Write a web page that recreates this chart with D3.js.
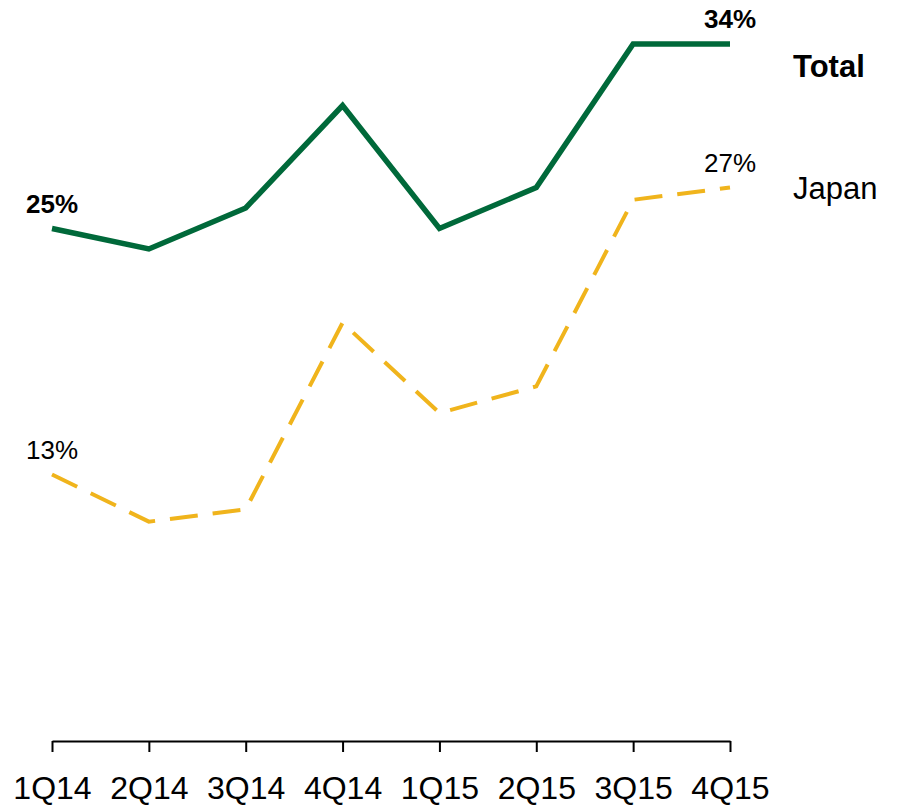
<!DOCTYPE html>
<html>
<head>
<meta charset="utf-8">
<script src="https://cdn.jsdelivr.net/npm/d3@7"></script>
<style>
  body { margin:0; padding:0; background:#fff; }
  svg { display:block; font-family:"Liberation Sans", Arial, sans-serif; }
  .axis path, .axis line { stroke:#000; stroke-width:2; }
  .axis text { font-size:32px; fill:#000; }
</style>
</head>
<body>
<div id="chart"></div>
<script>
// quarters on the x axis
var quarters = ["1Q14", "2Q14", "3Q14", "4Q14", "1Q15", "2Q15", "3Q15", "4Q15"];
// share, percent
var totalVals = [25, 24, 26, 31, 25, 27, 34, 34];
var japanVals = [13, 10.7, 11.3, 20.4, 16, 17.3, 26.4, 27];

var W = 897, H = 805;
var svg = d3.select("#chart").append("svg")
  .attr("width", W).attr("height", H);

var x = d3.scalePoint().domain(quarters).range([52, 730]);
var y = d3.scaleLinear().domain([0, 34]).range([741, 44]);

svg.append("g")
  .attr("class", "axis")
  .attr("transform", "translate(0," + y(0) + ")")
  .call(d3.axisBottom(x).tickSize(11).tickSizeOuter(0))
  .call(function(g) {
    g.selectAll("text").attr("dy", null).attr("y", 58);
  });

var line = d3.line()
  .x(function(d, i) { return x(quarters[i]); })
  .y(function(d) { return y(d); });

svg.append("path")
  .datum(japanVals)
  .attr("d", line)
  .attr("fill", "none")
  .attr("stroke", "#f0b41c")
  .attr("stroke-width", 4)
  .attr("stroke-dasharray", "28,15");

svg.append("path")
  .datum(totalVals)
  .attr("d", line)
  .attr("fill", "none")
  .attr("stroke", "#00693a")
  .attr("stroke-width", 5.5)
  .attr("stroke-linejoin", "miter");

// end point labels
function endLabels(vals, bold) {
  var idx = [0, vals.length - 1];
  svg.selectAll(null).data(idx).enter().append("text")
    .attr("x", function(i) { return x(quarters[i]); })
    .attr("y", function(i) { return y(vals[i]) - 16; })
    .attr("text-anchor", "middle")
    .attr("font-size", 26)
    .attr("font-weight", bold ? "bold" : "normal")
    .text(function(i) { return vals[i] + "%"; });
}
endLabels(totalVals, true);
endLabels(japanVals, false);

svg.append("text")
  .attr("x", 793).attr("y", 77)
  .attr("font-size", 31).attr("font-weight", "bold")
  .text("Total");
svg.append("text")
  .attr("x", 793).attr("y", 199)
  .attr("font-size", 31)
  .text("Japan");
</script>
</body>
</html>
